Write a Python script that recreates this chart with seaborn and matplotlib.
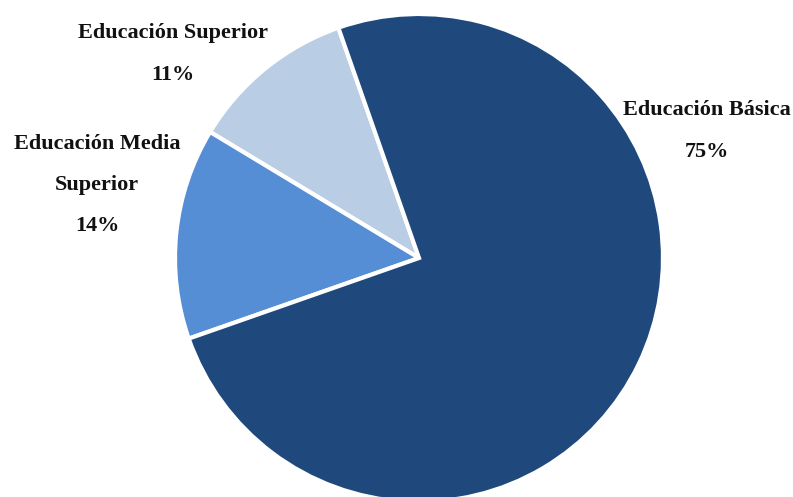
import matplotlib
matplotlib.use("Agg")
import matplotlib.pyplot as plt
import seaborn as sns

categories = ["Educación Superior", "Educación Media\nSuperior", "Educación Básica"]
values = [11, 14, 75]
colors = ["#B9CDE5", "#558ED5", "#1F497D"]

sns.set_style("white")
plt.rcParams["font.family"] = ["Liberation Serif", "DejaVu Serif"]

W, H = 793, 497
fig = plt.figure(figsize=(W / 100, H / 100), dpi=100)
cx, cy, r = 419, 258, 244
ax = fig.add_axes([(cx - r) / W, (H - cy - r) / H, 2 * r / W, 2 * r / H])
ax.pie(values, colors=colors, startangle=109.3, counterclock=True,
       wedgeprops=dict(edgecolor="white", linewidth=3))
ax.set_xlim(-1, 1)
ax.set_ylim(-1, 1)
ax.set_aspect("equal")
ax.axis("off")

# label positions in pixels (centre of text block)
label_pos = [(173, 54), (97, 185), (707, 131)]
for cat, v, (px, py) in zip(categories, values, label_pos):
    fig.text(px / W, 1 - py / H, f"{cat}\n{v}%", ha="center", va="center",
             fontsize=16, fontweight="bold", color="#111111", linespacing=2.42)

fig.savefig("out.png", dpi=100)
